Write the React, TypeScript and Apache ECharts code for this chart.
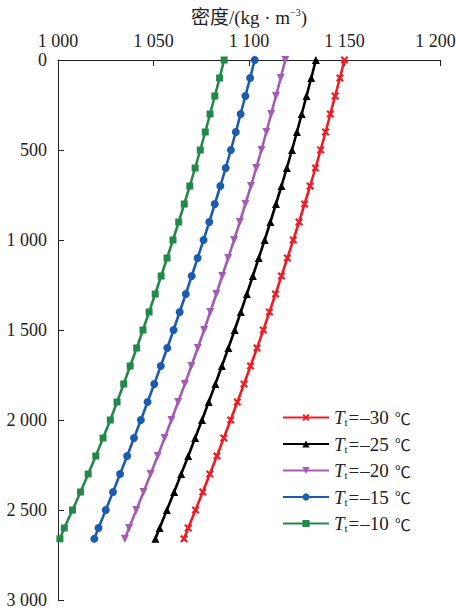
import React, { useEffect, useRef } from "react";
import * as echarts from "echarts";

const depths = [0, 100, 200, 300, 400, 500, 600, 700, 800, 900, 1000, 1100, 1200, 1300, 1400, 1500, 1600, 1700, 1800, 1900, 2000, 2100, 2200, 2300, 2400, 2500, 2600, 2660];

const red30 = [1150, 1147.6, 1145.1, 1142.6, 1140.1, 1137.5, 1134.8, 1132.0, 1129.1, 1126.2, 1123.2, 1120.1, 1117.0, 1113.9, 1110.7, 1107.5, 1104.2, 1100.8, 1097.4, 1093.9, 1090.4, 1086.8, 1083.2, 1079.5, 1075.8, 1072.0, 1068.2, 1066.0];
const black25 = [1135, 1132.6, 1130.1, 1127.6, 1125.1, 1122.5, 1119.8, 1117.0, 1114.1, 1111.2, 1108.2, 1105.1, 1102.0, 1098.9, 1095.7, 1092.5, 1089.2, 1085.8, 1082.4, 1078.9, 1075.4, 1071.8, 1068.2, 1064.5, 1060.8, 1057.0, 1053.2, 1051.0];
const purple20 = [1119, 1116.6, 1114.1, 1111.6, 1109.1, 1106.5, 1103.8, 1101.0, 1098.1, 1095.2, 1092.2, 1089.1, 1086.0, 1082.9, 1079.7, 1076.5, 1073.2, 1069.8, 1066.4, 1062.9, 1059.4, 1055.8, 1052.2, 1048.5, 1044.8, 1041.0, 1037.2, 1035.0];
const blue15 = [1103, 1100.6, 1098.1, 1095.6, 1093.1, 1090.5, 1087.8, 1085.0, 1082.1, 1079.2, 1076.2, 1073.1, 1070.0, 1066.9, 1063.7, 1060.5, 1057.2, 1053.8, 1050.4, 1046.9, 1043.4, 1039.8, 1036.2, 1032.5, 1028.8, 1025.0, 1021.2, 1019.0];
const green10 = [1087, 1084.6, 1082.1, 1079.6, 1077.1, 1074.5, 1071.8, 1069.0, 1066.1, 1063.2, 1060.2, 1057.1, 1054.0, 1050.9, 1047.7, 1044.5, 1041.2, 1037.8, 1034.4, 1030.9, 1027.4, 1023.6, 1019.8, 1015.8, 1011.8, 1007.6, 1003.3, 1001.0];

const seriesLabels = ["–30", "–25", "–20", "–15", "–10"];
const seriesNames = seriesLabels.map((t) => `Tt=${t}`);

const CROSS = "path://M2,0 L5,3 L8,0 L10,2 L7,5 L10,8 L8,10 L5,7 L2,10 L0,8 L3,5 L0,2 Z";
const SERIF = "'Liberation Serif', 'Times New Roman', serif";

const fmt = (v: number) =>
  v >= 1000 ? `${Math.floor(v / 1000)} ${String(v % 1000).padStart(3, "0")}` : String(v);

export default function App() {
  const ref = useRef<HTMLDivElement>(null);
  useEffect(() => {
    if (!ref.current) return;
    const chart = echarts.init(ref.current, undefined, { renderer: "svg" });
    const all = [red30, black25, purple20, blue15, green10];
    const colors = ["#ee1c25", "#000000", "#a35cb1", "#1b5cae", "#23894a"];
    const symbols = [CROSS, "triangle", "triangle", "circle", "rect"];
    const rotates = [0, 0, 180, 0, 0];
    const sizes = [8, 8, 8, 8, 7];
    const series = all.map((vals, i) => ({
      type: "line",
      name: seriesNames[i],
      data: vals.map((v, j) => [v, depths[j]]),
      symbol: symbols[i],
      symbolRotate: rotates[i],
      symbolSize: sizes[i],
      showAllSymbol: true,
      lineStyle: { color: colors[i], width: 2.6 },
      itemStyle: { color: colors[i] },
      z: 10 - i,
    }));
    const txt = "#222";
    chart.setOption({
      animation: false,
      backgroundColor: "#ffffff",
      grid: { left: 58, right: 17, top: 60, bottom: 13, containLabel: false, outerBoundsMode: "none" },
      legend: {
        orient: "vertical",
        left: 277,
        top: 403,
        itemWidth: 46,
        itemHeight: 9,
        itemGap: 7,
        data: seriesNames,
        formatter: (name: string) => {
          const idx = seriesNames.indexOf(name);
          return `{i|T}{s|t}{e|=}{n|${seriesLabels[idx]}}{c|℃}`;
        },
        textStyle: {
          fontFamily: SERIF,
          fontSize: 18,
          color: txt,
          rich: {
            i: { fontFamily: SERIF, fontStyle: "italic", fontSize: 19, color: txt },
            s: { fontFamily: SERIF, fontSize: 11, color: txt, padding: [9, 0, 0, 0] },
            e: { fontFamily: SERIF, fontSize: 19, color: txt, padding: [0, 1, 0, 1] },
            n: { fontFamily: SERIF, fontSize: 19, color: txt },
            c: { fontFamily: "'Noto Sans CJK SC', sans-serif", fontSize: 16, color: txt, padding: [0, 0, 0, 6] },
          },
        },
      },
      xAxis: {
        type: "value",
        position: "top",
        min: 1000,
        max: 1200,
        interval: 50,
        name: "{a|密度/(kg · m}{b|−3}{a|)}",
        nameLocation: "middle",
        nameGap: 32,
        nameTextStyle: {
          rich: {
            a: { fontFamily: "'Liberation Serif', 'Noto Sans CJK SC', serif", fontSize: 19, color: txt },
            b: { fontFamily: SERIF, fontSize: 10, color: txt, padding: [0, 0, 10, 0] },
          },
        },
        axisLine: { show: true, lineStyle: { color: txt, width: 1 } },
        axisTick: { show: true, inside: true, length: 6, lineStyle: { color: txt } },
        axisLabel: {
          formatter: (v: number) => (v === 1200 ? `{r|${fmt(v)}}` : fmt(v)),
          fontFamily: SERIF,
          fontSize: 18,
          color: txt,
          margin: 10,
          rich: { r: { fontFamily: SERIF, fontSize: 18, color: txt, padding: [0, 9, 0, 0] } },
        },
        splitLine: { show: false },
      },
      yAxis: {
        type: "value",
        inverse: true,
        min: 0,
        max: 3000,
        interval: 500,
        axisLine: { show: true, lineStyle: { color: txt, width: 1 } },
        axisTick: { show: true, inside: true, length: 6, lineStyle: { color: txt } },
        axisLabel: { formatter: fmt, fontFamily: SERIF, fontSize: 18, color: txt, margin: 11 },
        splitLine: { show: false },
      },
      series,
    });
    return () => chart.dispose();
  }, []);
  return (
    <div
      ref={ref}
      style={{ position: "fixed", left: 0, top: 0, width: 457, height: 613 }}
    />
  );
}
